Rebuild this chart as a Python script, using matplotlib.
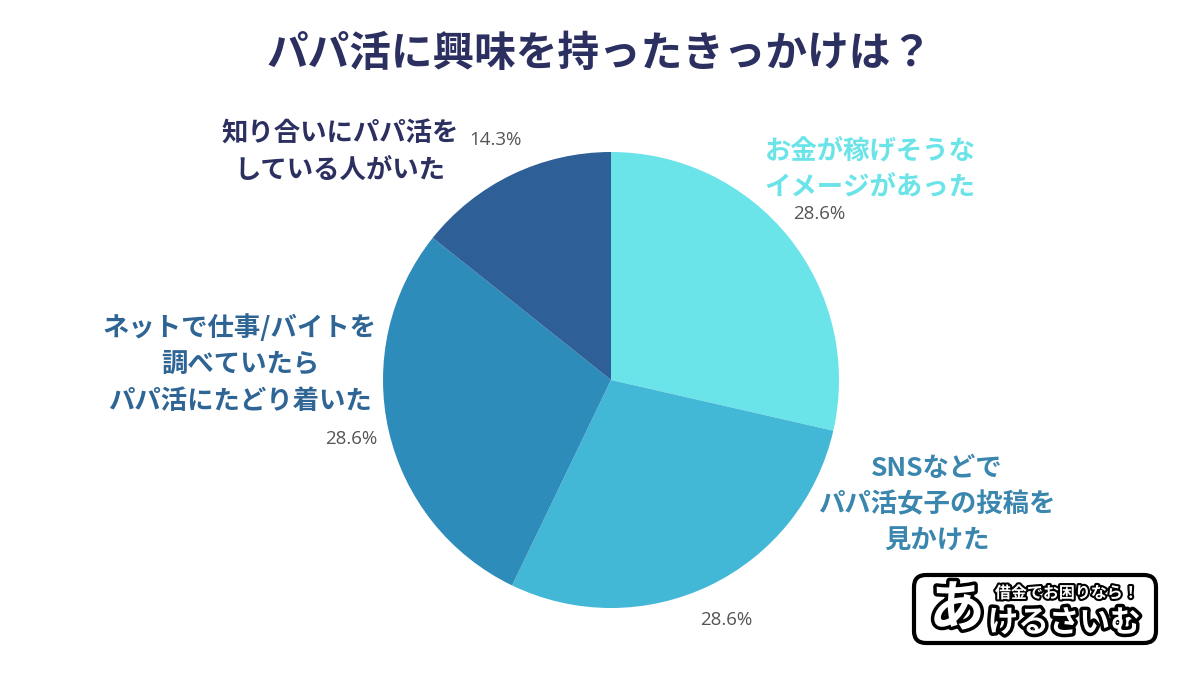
import matplotlib
matplotlib.use("Agg")
import matplotlib.pyplot as plt
import matplotlib.patheffects as pe
from matplotlib.patches import FancyBboxPatch

plt.rcParams['font.family'] = ['Noto Sans CJK JP', 'DejaVu Sans']

# data
title = "パパ活に興味を持ったきっかけは？"
categories = [
    "お金が稼げそうな\nイメージがあった",
    "SNSなどで\nパパ活女子の投稿を\n見かけた",
    "ネットで仕事/バイトを\n調べていたら\nパパ活にたどり着いた",
    "知り合いにパパ活を\nしている人がいた",
]
shares = [28.6, 28.6, 28.6, 14.3]
slice_colors = ["#6AE4E8", "#43B7D6", "#2E8CBB", "#2E5F96"]
label_colors = ["#6AE4E8", "#3A86AE", "#2E6594", "#2B3060"]
# label centres in pixels (x, y from top)
label_pos = [(870, 169), (937, 505), (240, 365), (340, 152)]

W, H = 1200, 675
fig = plt.figure(figsize=(12, 6.75), dpi=100)
fig.patch.set_facecolor("white")

fig.text(0.5, 1 - 54 / H, title, ha="center", va="center",
         fontsize=30, fontweight="bold", color="#2B3060")

# pie
cx, cy, box = 611, 380, 460
ax = fig.add_axes([(cx - box / 2) / W, (H - cy - box / 2) / H, box / W, box / H])
wedges, _, autotexts = ax.pie(
    shares, colors=slice_colors, startangle=90, counterclock=False,
    radius=228 / 230, autopct=lambda p: f"{p:.1f}%", pctdistance=1.17,
    wedgeprops=dict(linewidth=0),
    textprops=dict(fontsize=13.5, color="#555555"),
)
for t, v in zip(autotexts, shares):
    t.set_text(f"{v:.1f}%")
    t.set_fontfamily(['Open Sans', 'DejaVu Sans'])
ax.set_xlim(-1, 1)
ax.set_ylim(-1, 1)
ax.set_aspect("equal")
ax.axis("off")

for text, (x, y), c in zip(categories, label_pos, label_colors):
    fig.text(x / W, 1 - y / H, text, ha="center", va="center",
             fontsize=19, fontweight="bold", color=c, linespacing=1.45)

# logo
lax = fig.add_axes([0, 0, 1, 1], facecolor="none")
lax.set_xlim(0, W)
lax.set_ylim(H, 0)
lax.axis("off")
lax.add_patch(FancyBboxPatch((914, 575), 242, 68, boxstyle="round,pad=0,rounding_size=12",
                             facecolor="white", edgecolor="black", linewidth=3))
stroke = [pe.withStroke(linewidth=5, foreground="black")]
lax.text(957, 610, "あ", ha="center", va="center", fontsize=40, fontweight="bold",
         color="white", path_effects=stroke)
lax.text(1067, 593, "借金でお困りなら！", ha="center", va="center", fontsize=11.5,
         fontweight="bold", color="white", path_effects=[pe.withStroke(linewidth=3, foreground="black")])
lax.text(1064, 623, "けるさいむ", ha="center", va="center", fontsize=22,
         fontweight="bold", color="white", path_effects=stroke)

fig.savefig("out.png", dpi=100)
